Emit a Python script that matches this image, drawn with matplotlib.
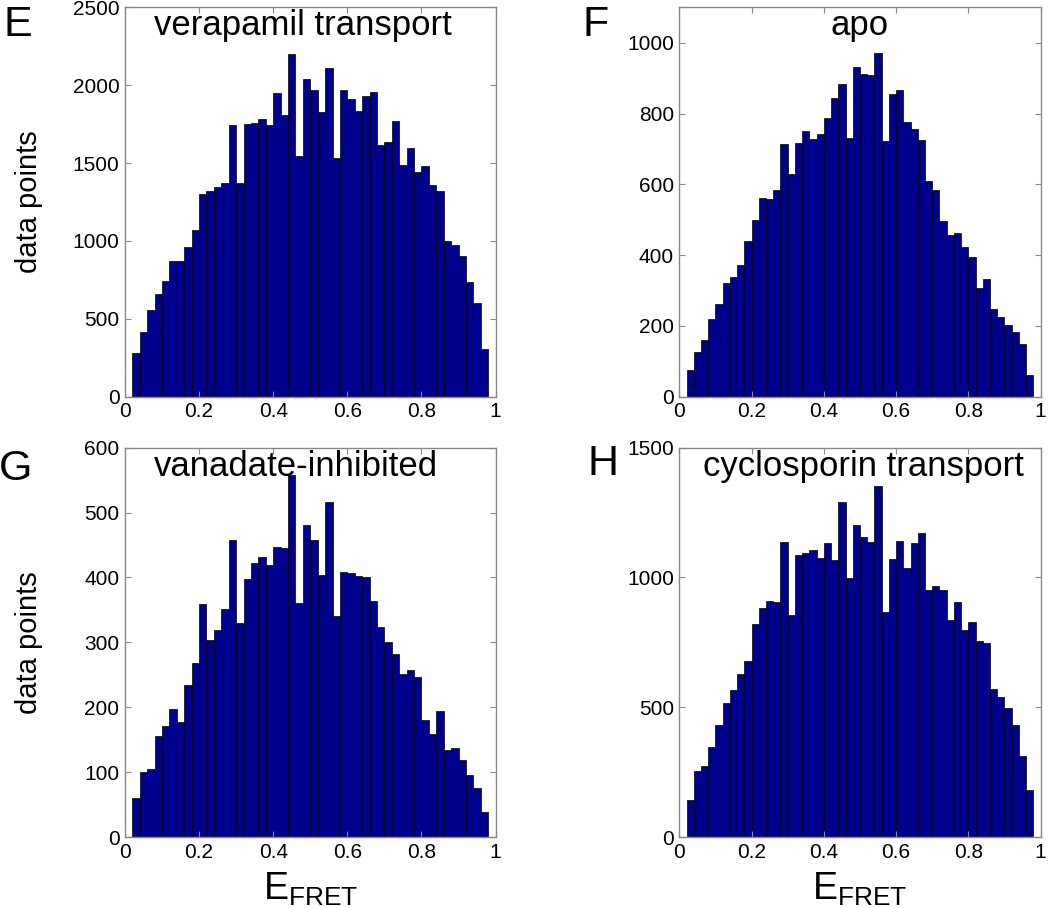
import numpy as np
import matplotlib
matplotlib.use("Agg")
import matplotlib.pyplot as plt

plt.rcParams['font.family'] = ['Liberation Sans', 'DejaVu Sans']

# E_FRET histogram bins: 48 bins of width 0.02 from 0.02 to 0.98
bin_edges = np.linspace(0.02, 0.98, 49)

verapamil = [278, 415, 557, 659, 745, 873, 870, 961, 1068, 1301, 1318, 1346,
             1374, 1747, 1374, 1751, 1760, 1781, 1747, 1948, 1811, 2203, 1546, 2042,
             1970, 1826, 2109, 1533, 1972, 1914, 1833, 1933, 1954, 1618, 1636, 1768,
             1490, 1599, 1445, 1481, 1361, 1321, 998, 976, 901, 739, 601, 308]

apo = [77, 127, 160, 219, 262, 321, 337, 373, 441, 499, 562, 558,
       584, 715, 630, 718, 751, 727, 741, 788, 845, 883, 730, 932,
       912, 909, 970, 722, 855, 867, 775, 757, 725, 608, 585, 497,
       457, 463, 422, 395, 308, 334, 249, 225, 203, 183, 148, 61]

vanadate = [60, 100, 105, 156, 171, 197, 178, 235, 268, 359, 303, 319,
            351, 458, 330, 397, 422, 431, 420, 447, 445, 558, 360, 481,
            458, 404, 516, 340, 408, 407, 403, 401, 364, 323, 301, 282,
            252, 257, 246, 180, 159, 195, 134, 137, 119, 96, 76, 39]

cyclosporin = [144, 253, 275, 347, 431, 518, 565, 627, 679, 819, 884, 910,
               905, 1137, 854, 1088, 1094, 1104, 1074, 1134, 1066, 1292, 999, 1202,
               1156, 1135, 1351, 869, 1071, 1140, 1038, 1134, 1171, 950, 967, 953,
               835, 907, 796, 828, 754, 747, 569, 541, 498, 431, 311, 180]

titles = ["verapamil transport", "apo", "vanadate-inhibited", "cyclosporin transport"]
letters = ["E", "F", "G", "H"]
series = [verapamil, apo, vanadate, cyclosporin]
y_max = [2500, 1100, 600, 1500]
y_step = [500, 200, 100, 500]
x_ticks = [0, 0.2, 0.4, 0.6, 0.8, 1]
x_ticklabels = ["0", "0.2", "0.4", "0.6", "0.8", "1"]

BAR_COLOR = '#00008F'
SPINE_COLOR = '#888888'

fig = plt.figure(figsize=(10.5, 9.08), dpi=100)

# axes rectangles in figure fractions
positions = [
    [0.119, 0.563, 0.353, 0.429],
    [0.647, 0.563, 0.344, 0.429],
    [0.119, 0.078, 0.353, 0.429],
    [0.647, 0.078, 0.344, 0.429],
]
title_x = [0.48, 0.5, 0.46, 0.51]
letter_xy = [(0.017, 0.972), (0.567, 0.972), (0.015, 0.484), (0.574, 0.489)]

centers = (bin_edges[:-1] + bin_edges[1:]) / 2
width = bin_edges[1] - bin_edges[0]

for i in range(4):
    ax = fig.add_axes(positions[i])
    ax.bar(centers, series[i], width=width, color=BAR_COLOR,
           edgecolor='black', linewidth=0.5)
    ax.set_xlim(0, 1)
    ax.set_ylim(0, y_max[i])
    ax.set_xticks(x_ticks)
    ax.set_xticklabels(x_ticklabels)
    ax.set_yticks(np.arange(0, y_max[i] + 1, y_step[i]))
    ax.tick_params(direction='in', top=True, right=True, length=4,
                   color=SPINE_COLOR, labelsize=15, pad=4)
    for s in ax.spines.values():
        s.set_color(SPINE_COLOR)
        s.set_linewidth(1)

    ax.text(title_x[i], 0.995, titles[i], transform=ax.transAxes,
            ha='center', va='top', fontsize=25)

    fig.text(letter_xy[i][0], letter_xy[i][1], letters[i], fontsize=31,
             ha='center', va='center')

    if i in (0, 2):
        ax.set_ylabel("data points", fontsize=21)
        ax.yaxis.set_label_coords(-0.22, 0.5)
    if i in (2, 3):
        ax.set_xlabel(r"$\mathregular{E_{FRET}}$", fontsize=27)
        ax.xaxis.set_label_coords(0.5, -0.085)

fig.savefig("out.png", dpi=100)
